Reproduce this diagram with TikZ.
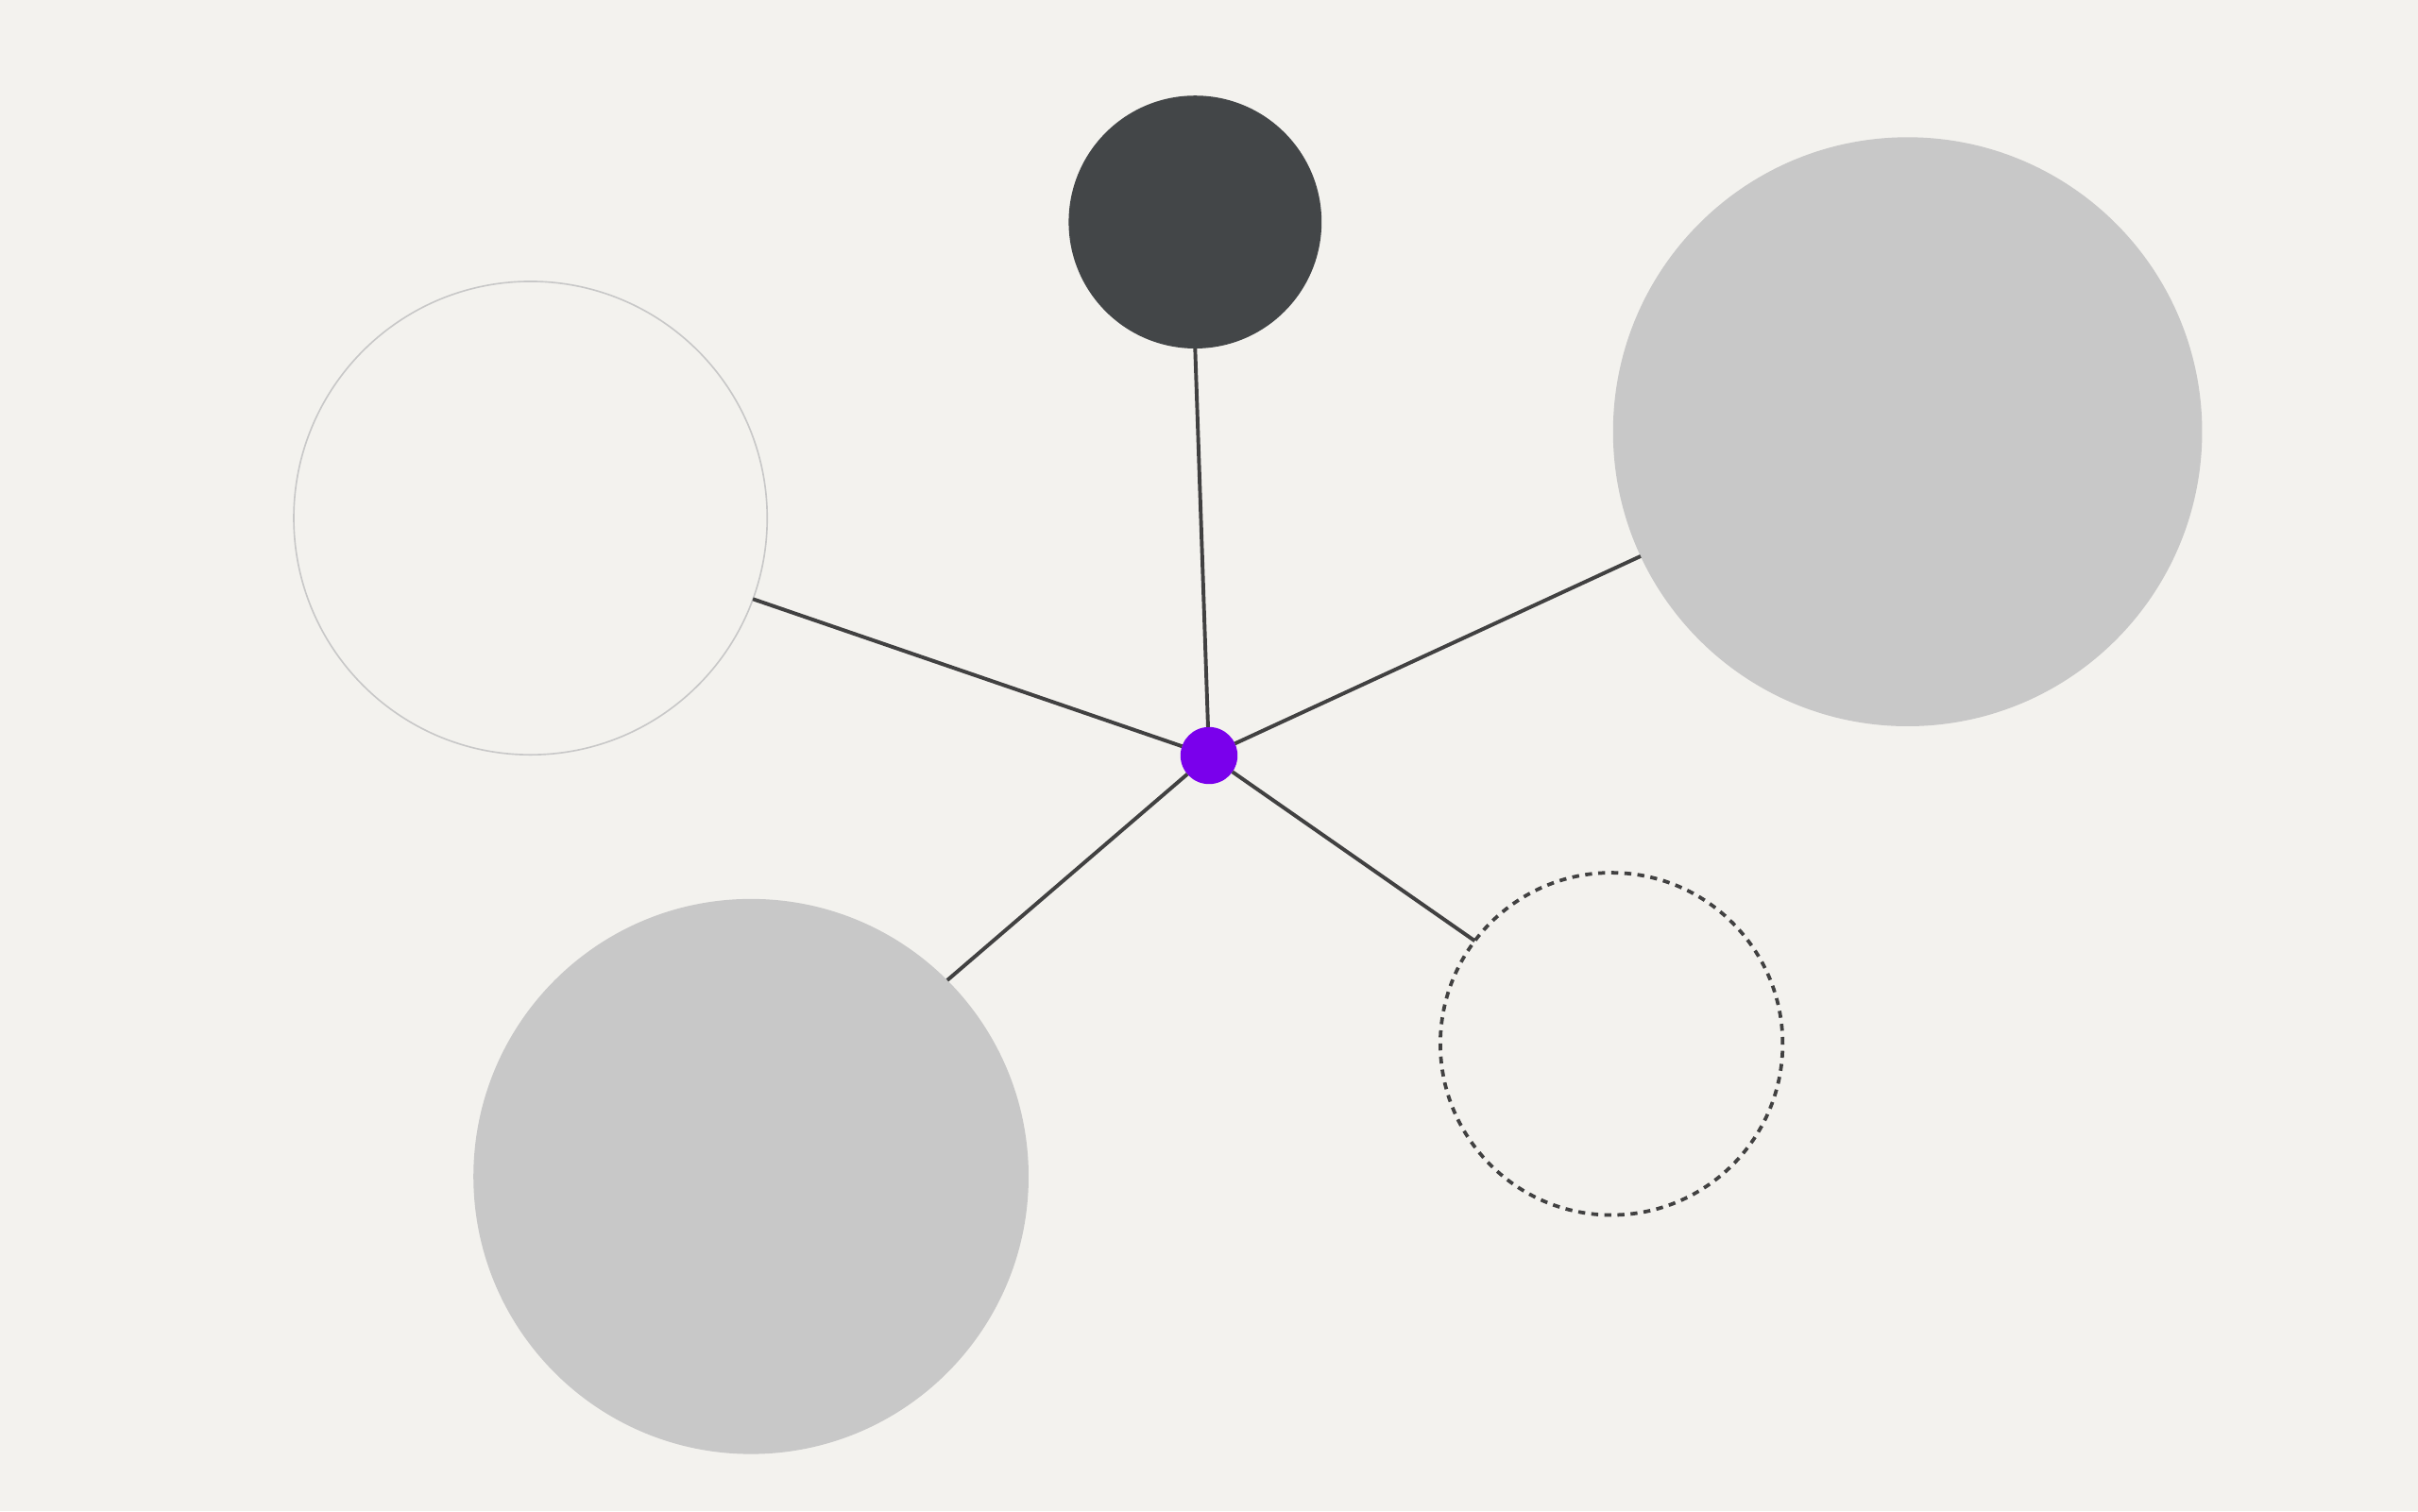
\documentclass[tikz,border=0pt]{standalone}
\definecolor{bg}{HTML}{F3F2EE}
\definecolor{lgray}{HTML}{C8C8C8}
\definecolor{dark}{HTML}{434648}
\definecolor{edgec}{HTML}{414141}
\definecolor{hubc}{HTML}{7A00EC}
\tikzset{
  blob/.style={circle, inner sep=0pt, outer sep=0pt},
  spoke/.style={draw=edgec, line width=2.4pt},
}
\begin{document}
\begin{tikzpicture}[x=1pt,y=-1pt]
\fill[bg] (0,0) rectangle (1568,980);
\useasboundingbox (0,0) rectangle (1568,980);
\node[blob, fill=dark, minimum size=164pt] (top) at (775,144) {};
\node[blob, draw=lgray, line width=1pt, minimum size=307pt] (left) at (344,336) {};
\node[blob, fill=lgray, minimum size=382pt] (right) at (1237,280) {};
\node[blob, fill=lgray, minimum size=360pt] (bl) at (487,763) {};
\node[blob, draw=edgec, line width=2.3pt, dash pattern=on 4.5pt off 4pt, minimum size=222pt] (dash) at (1045,677) {};
\node[blob, fill=hubc, minimum size=37pt] (hub) at (784,490) {};
\draw[spoke] (hub) -- (top.south);
\draw[spoke] (hub) -- (left.340.7);
\draw[spoke] (hub) -- (right.205.3);
\draw[spoke] (hub) -- (bl.45.4);
\draw[spoke] (hub) -- (dash.143);
\end{tikzpicture}
\end{document}
